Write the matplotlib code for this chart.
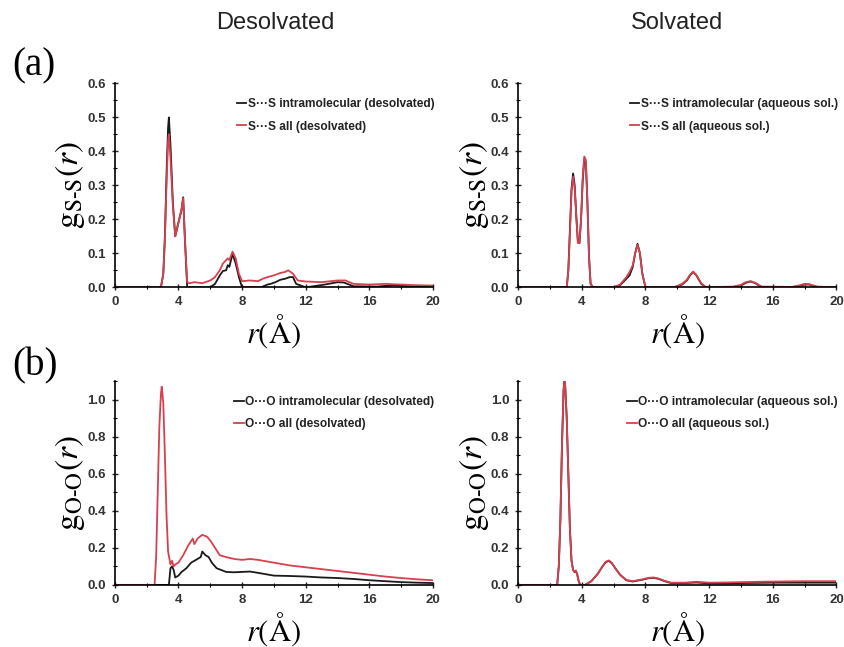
import matplotlib
matplotlib.use("Agg")
import matplotlib.pyplot as plt
from matplotlib.ticker import MultipleLocator

plt.rcParams['font.family'] = ['Liberation Sans', 'DejaVu Sans']
plt.rcParams['mathtext.fontset'] = 'stix'

# ---------------- data ----------------
# (a) S...S, desolvated
r_ss_des_intra = [0, 2.9, 3.05, 3.15, 3.25, 3.35, 3.4, 3.5, 3.65, 3.8, 3.9, 4.0, 4.1, 4.2, 4.3, 4.4, 4.55, 4.7,
                  6.0, 6.3, 6.6, 6.8, 7.0, 7.1, 7.2, 7.4, 7.6, 7.8, 8.0,
                  9.2, 9.6, 9.8, 10.1, 10.4, 10.7, 11.0, 11.2, 11.4, 12.0,
                  12.5, 13.2, 14.0, 14.4, 15.0, 16.5, 17.5, 18.5, 20]
g_ss_des_intra = [0, 0, 0.04, 0.15, 0.33, 0.47, 0.50, 0.42, 0.25, 0.15, 0.17, 0.19, 0.21, 0.23, 0.265, 0.15, 0.0, 0.0,
                  0.0, 0.01, 0.035, 0.048, 0.05, 0.065, 0.06, 0.098, 0.07, 0.03, 0.0,
                  0.0, 0.008, 0.01, 0.015, 0.022, 0.025, 0.03, 0.03, 0.01, 0.0,
                  0.003, 0.008, 0.015, 0.014, 0.003, 0.002, 0.006, 0.003, 0.0]

r_ss_des_all = [0, 2.9, 3.05, 3.15, 3.25, 3.35, 3.4, 3.5, 3.65, 3.8, 3.9, 4.0, 4.1, 4.2, 4.3, 4.4, 4.55, 4.7,
                5.0, 5.5, 6.0, 6.3, 6.6, 6.8, 7.0, 7.1, 7.2, 7.4, 7.6, 7.8, 8.0,
                8.5, 9.0, 9.3, 9.6, 10.0, 10.4, 10.7, 10.9, 11.2, 11.5, 12.0,
                13.0, 13.6, 14.0, 14.5, 15.0, 16.0, 17.0, 18.0, 19.0, 20]
g_ss_des_all = [0, 0, 0.04, 0.14, 0.30, 0.43, 0.45, 0.38, 0.24, 0.15, 0.17, 0.19, 0.21, 0.23, 0.262, 0.15, 0.015, 0.012,
                0.015, 0.012, 0.02, 0.03, 0.05, 0.07, 0.08, 0.085, 0.08, 0.105, 0.085, 0.04, 0.018,
                0.02, 0.018, 0.025, 0.03, 0.035, 0.042, 0.045, 0.05, 0.04, 0.02, 0.017,
                0.015, 0.018, 0.02, 0.02, 0.01, 0.008, 0.01, 0.008, 0.006, 0.005]

# (a) S...S, aqueous solution
r_ss_sol_intra = [0, 3.05, 3.15, 3.25, 3.35, 3.45, 3.55, 3.65, 3.75, 3.85, 3.95, 4.05, 4.15, 4.25,
                  4.35, 4.45, 4.55, 4.7,
                  6.0, 6.4, 6.8, 7.0, 7.2, 7.35, 7.5, 7.65, 7.8, 8.0,
                  9.8, 10.3, 10.6, 10.8, 11.0, 11.2, 11.5, 11.8,
                  13.5, 14.0, 14.3, 14.6, 14.9, 15.3,
                  17.2, 17.7, 18.0, 18.3, 18.8, 20]
g_ss_sol_intra = [0, 0, 0.05, 0.17, 0.29, 0.335, 0.30, 0.21, 0.135, 0.13, 0.2, 0.31, 0.375, 0.37,
                  0.25, 0.09, 0.01, 0.0,
                  0.0, 0.006, 0.025, 0.035, 0.06, 0.1, 0.128, 0.1, 0.04, 0.0,
                  0.0, 0.008, 0.02, 0.035, 0.045, 0.035, 0.01, 0.0,
                  0.0, 0.005, 0.013, 0.017, 0.012, 0.0,
                  0.0, 0.004, 0.008, 0.008, 0.0, 0.0]

r_ss_sol_all = r_ss_sol_intra
g_ss_sol_all = [0, 0, 0.05, 0.16, 0.28, 0.325, 0.29, 0.21, 0.13, 0.13, 0.2, 0.32, 0.385, 0.375,
                0.25, 0.09, 0.01, 0.0,
                0.0, 0.008, 0.03, 0.045, 0.065, 0.1, 0.125, 0.1, 0.04, 0.0,
                0.0, 0.01, 0.022, 0.037, 0.046, 0.036, 0.012, 0.0,
                0.002, 0.007, 0.015, 0.018, 0.013, 0.002,
                0.001, 0.006, 0.01, 0.009, 0.002, 0.0]

# (b) O...O, desolvated
r_oo_des_intra = [0, 3.4, 3.5, 3.6, 3.7, 3.8, 4.0, 4.2, 4.5, 4.8, 5.0, 5.2, 5.4, 5.5, 5.7, 5.9,
                  6.1, 6.4, 7.0, 7.5, 8.0, 8.5, 9.0, 10.0, 11.0, 12.0, 13.0, 14.0, 15.0, 16.0,
                  17.0, 18.0, 19.0, 20]
g_oo_des_intra = [0, 0, 0.09, 0.1, 0.08, 0.04, 0.05, 0.07, 0.09, 0.12, 0.13, 0.14, 0.15, 0.18, 0.16, 0.15,
                  0.12, 0.09, 0.07, 0.068, 0.07, 0.072, 0.065, 0.05, 0.048, 0.045, 0.04, 0.037, 0.032, 0.025,
                  0.02, 0.015, 0.012, 0.01]

r_oo_des_all = [0, 2.5, 2.6, 2.7, 2.8, 2.9, 2.95, 3.05, 3.15, 3.25, 3.35, 3.5, 3.6, 3.7, 3.8, 4.0, 4.3,
                4.6, 4.9, 5.0, 5.2, 5.5, 5.8, 6.0, 6.3, 6.6, 7.0, 7.5, 8.0, 8.5, 9.0, 10.0, 11.0,
                12.0, 13.0, 14.0, 15.0, 16.0, 17.0, 18.0, 19.0, 20]
g_oo_des_all = [0, 0, 0.15, 0.5, 0.85, 1.03, 1.07, 0.98, 0.7, 0.38, 0.18, 0.11, 0.13, 0.1, 0.11, 0.12, 0.16,
                0.21, 0.25, 0.22, 0.25, 0.27, 0.26, 0.24, 0.2, 0.16, 0.15, 0.14, 0.135, 0.14, 0.135, 0.12, 0.105,
                0.095, 0.085, 0.075, 0.065, 0.055, 0.045, 0.037, 0.03, 0.025]

# (b) O...O, aqueous solution
r_oo_sol_intra = [0, 2.45, 2.55, 2.65, 2.75, 2.85, 2.9, 2.95, 3.05, 3.15, 3.25, 3.35, 3.45, 3.55, 3.62,
                  3.7, 3.8, 3.9, 4.2, 4.6, 5.0, 5.3, 5.5, 5.7, 5.9, 6.1, 6.4, 6.8, 7.2, 7.8, 8.2,
                  8.5, 8.8, 9.2, 9.6, 10.5, 11.2, 12.0, 13.0, 14.0, 16.0, 18.0, 20]
g_oo_sol_intra = [0, 0, 0.1, 0.35, 0.75, 1.05, 1.1, 1.08, 0.9, 0.6, 0.3, 0.13, 0.08, 0.068, 0.075,
                  0.06, 0.02, 0.0, 0.0, 0.02, 0.06, 0.1, 0.122, 0.13, 0.115, 0.09, 0.055, 0.025, 0.018, 0.028,
                  0.036, 0.038, 0.033, 0.02, 0.01, 0.01, 0.013, 0.008, 0.008, 0.01, 0.012, 0.012, 0.012]

r_oo_sol_all = r_oo_sol_intra
g_oo_sol_all = [0, 0, 0.1, 0.35, 0.75, 1.05, 1.1, 1.08, 0.9, 0.6, 0.3, 0.13, 0.08, 0.07, 0.078,
                0.06, 0.02, 0.0, 0.0, 0.02, 0.06, 0.1, 0.125, 0.132, 0.117, 0.09, 0.055, 0.026, 0.02, 0.03,
                0.038, 0.04, 0.035, 0.022, 0.012, 0.012, 0.017, 0.012, 0.013, 0.015, 0.018, 0.02, 0.02]

BLACK = '#1a1a1a'
RED = '#d8404e'

fig = plt.figure(figsize=(8.44, 6.47), dpi=100)

# axes positions (figure fractions)
left_cols = [0.136, 0.614]
width = 0.377
bottoms = [0.556, 0.096]
height = 0.315

panels = [
    # row, col, r_intra, g_intra, r_all, g_all, labels, ymax, ystep, ylabel
    (0, 0, r_ss_des_intra, g_ss_des_intra, r_ss_des_all, g_ss_des_all,
     ('S···S intramolecular (desolvated)', 'S···S all (desolvated)'),
     0.6, 0.1, r'$\mathrm{g}_{\mathrm{S\text{-}S}}(r)$'),
    (0, 1, r_ss_sol_intra, g_ss_sol_intra, r_ss_sol_all, g_ss_sol_all,
     ('S···S intramolecular (aqueous sol.)', 'S···S all (aqueous sol.)'),
     0.6, 0.1, r'$\mathrm{g}_{\mathrm{S\text{-}S}}(r)$'),
    (1, 0, r_oo_des_intra, g_oo_des_intra, r_oo_des_all, g_oo_des_all,
     ('O···O intramolecular (desolvated)', 'O···O all (desolvated)'),
     1.1, 0.2, r'$\mathrm{g}_{\mathrm{O\text{-}O}}(r)$'),
    (1, 1, r_oo_sol_intra, g_oo_sol_intra, r_oo_sol_all, g_oo_sol_all,
     ('O···O intramolecular (aqueous sol.)', 'O···O all (aqueous sol.)'),
     1.1, 0.2, r'$\mathrm{g}_{\mathrm{O\text{-}O}}(r)$'),
]

for row, col, ri, gi, ra, ga, labels, ymax, ystep, ylabel in panels:
    ax = fig.add_axes([left_cols[col], bottoms[row], width, height])
    ax.plot(ri, gi, color=BLACK, lw=1.3, label=labels[0])
    ax.plot(ra, ga, color=RED, lw=1.3, label=labels[1])
    ax.set_xlim(0, 20)
    ax.set_ylim(0, ymax)
    ax.xaxis.set_major_locator(MultipleLocator(4))
    ax.xaxis.set_minor_locator(MultipleLocator(2))
    ax.yaxis.set_major_locator(MultipleLocator(ystep))
    ax.yaxis.set_minor_locator(MultipleLocator(ystep / 2))
    ax.yaxis.set_major_formatter(plt.FormatStrFormatter('%.1f'))
    for s in ['top', 'right']:
        ax.spines[s].set_visible(False)
    for s in ['left', 'bottom']:
        ax.spines[s].set_linewidth(1.2)
    ax.tick_params(which='major', direction='inout', length=5, width=1.0,
                   labelsize=9.5, colors='#222222', pad=4)
    ax.tick_params(which='minor', direction='inout', length=3, width=0.8)
    for t in ax.get_xticklabels() + ax.get_yticklabels():
        t.set_fontweight('bold')
        t.set_color('#333333')
    ax.set_xlabel(r'$r(\mathrm{\AA})$', fontsize=22, labelpad=3)
    ax.set_ylabel(ylabel, fontsize=24, labelpad=0)
    leg = ax.legend(loc='upper right', frameon=False, fontsize=8.6, handlelength=0.8,
                    handletextpad=0.15, borderaxespad=0.0, labelspacing=0.85,
                    bbox_to_anchor=(1.02, 0.95))
    for t in leg.get_texts():
        t.set_fontweight('bold')
        t.set_color('#222222')

fig.text(0.326, 0.965, 'Desolvated', ha='center', va='center', fontsize=17, color='#222222')
fig.text(0.802, 0.965, 'Solvated', ha='center', va='center', fontsize=17, color='#222222')
fig.text(0.014, 0.898, '(a)', ha='left', va='center', fontsize=28, family='Liberation Serif')
fig.text(0.014, 0.434, '(b)', ha='left', va='center', fontsize=28, family='Liberation Serif')

fig.savefig('out.png', dpi=100)
